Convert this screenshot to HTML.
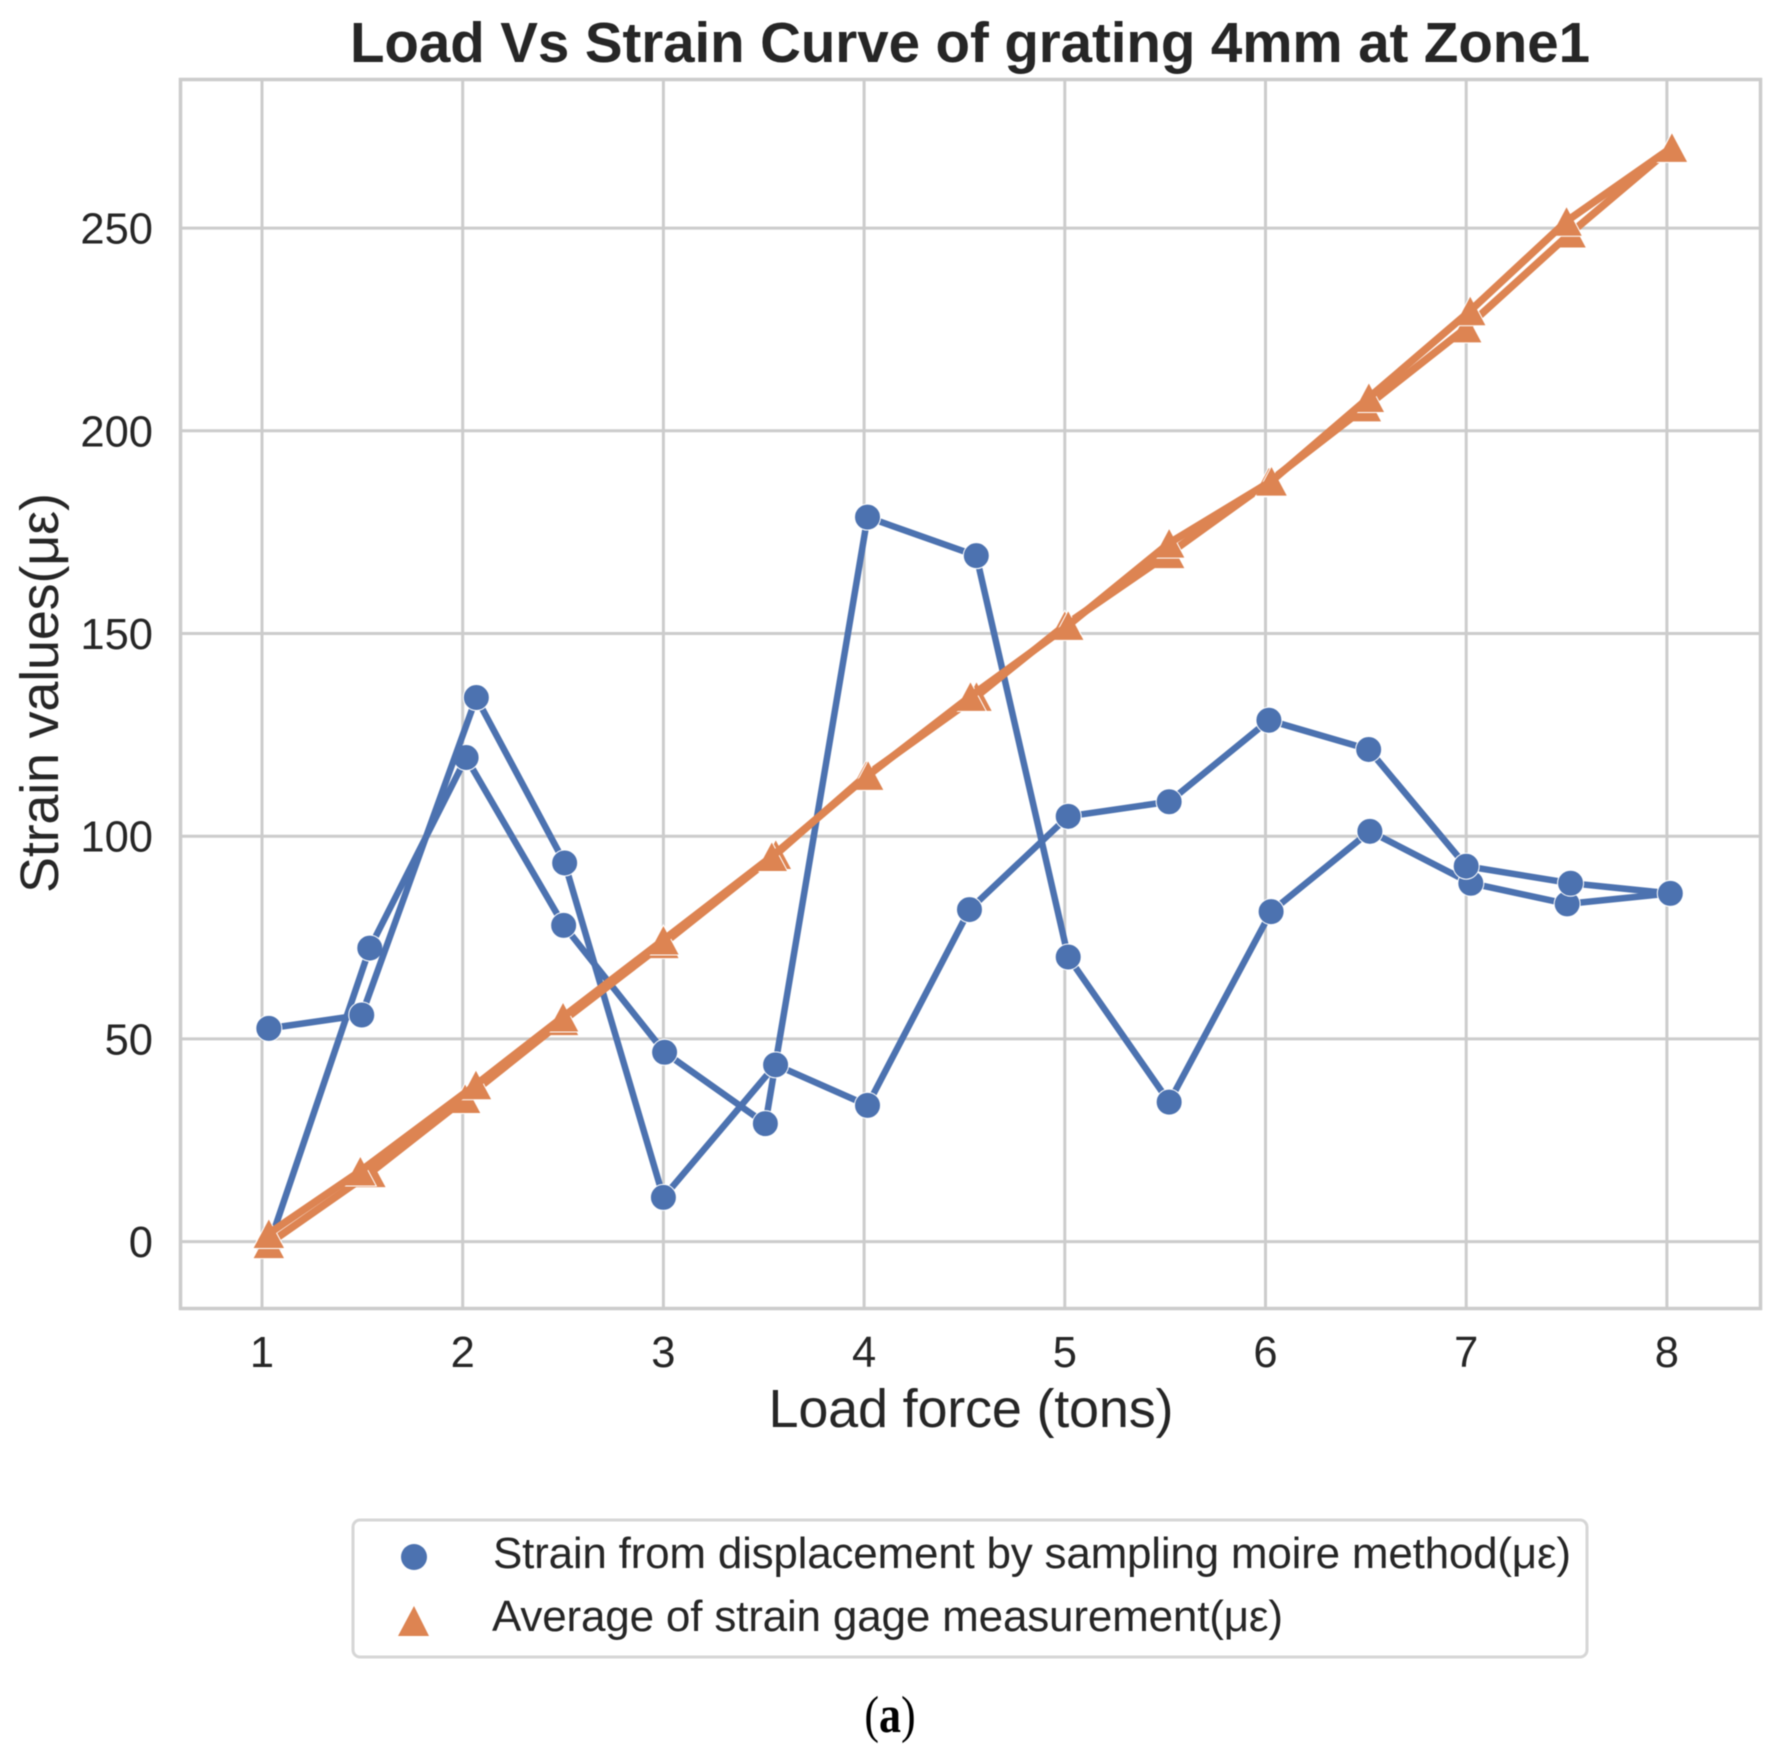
<!DOCTYPE html>
<html lang="en">
<head>
<meta charset="utf-8">
<title>Load Vs Strain Curve</title>
<style>
html,body{margin:0;padding:0;background:#fff;}
#chart{display:block;width:1778px;height:1761px;filter:blur(0.4px);}
text{font-family:"Liberation Sans",Arial,sans-serif;fill:#262626;}
</style>
</head>
<body>
<svg id="chart" xmlns="http://www.w3.org/2000/svg" width="1778" height="1761" viewBox="0 0 1778 1761">
  <rect x="0" y="0" width="1778" height="1761" fill="#ffffff"/>
  <text x="970" y="62" text-anchor="middle" font-size="56.5" font-weight="700" textLength="1240" lengthAdjust="spacing">Load Vs Strain Curve of grating 4mm at Zone1</text>
  <g id="grid"></g>
  <rect x="180.5" y="79.5" width="1580" height="1229" fill="none" stroke="#cccccc" stroke-width="3.5"/>
  <g id="xticks"></g>
  <g id="yticks"></g>
  <g id="series"></g>
  <text x="971" y="1427" text-anchor="middle" font-size="54" textLength="405" lengthAdjust="spacing">Load force (tons)</text>
  <text transform="translate(58,693) rotate(-90)" text-anchor="middle" font-size="54" textLength="400" lengthAdjust="spacing">Strain values(με)</text>
  <g>
    <rect x="353" y="1520" width="1234" height="137" rx="7" ry="7" fill="#ffffff" stroke="#d6d6d6" stroke-width="3"/>
    <circle cx="414" cy="1557" r="13" fill="#4c72b0"/>
    <text x="493" y="1568" font-size="44" textLength="1078" lengthAdjust="spacing">Strain from displacement by sampling moire method(με)</text>
    <polygon points="414,1606 429,1636 398,1636" fill="#dd8452"/>
    <text x="492" y="1631" font-size="44" textLength="791" lengthAdjust="spacing">Average of strain gage measurement(με)</text>
  </g>
  <text transform="translate(890,1732) scale(1,1.18)" x="0" y="0" text-anchor="middle" font-size="44" style="font-family:'Liberation Serif',serif;fill:#000">(<tspan font-weight="700">a</tspan>)</text>
</svg>
<script>
var xTicks = [1, 2, 3, 4, 5, 6, 7, 8];
var yTicks = [0, 50, 100, 150, 200, 250];

var moireUpX = [1.034, 1.537, 2.017, 2.503, 3.006, 3.508, 4.017, 4.559, 5.017, 5.52, 6.028, 6.52, 7.023, 7.503, 8.017];
var moireUpY = [-1, 72.4, 119.4, 78.0, 46.7, 29.1, 178.7, 169.2, 70.2, 34.4, 81.4, 101.2, 88.4, 83.3, 85.9];
var moireDownX = [1.034, 1.497, 2.068, 2.508, 3.0, 3.559, 4.017, 4.525, 5.017, 5.52, 6.017, 6.514, 7.0, 7.52, 8.017];
var moireDownY = [52.6, 55.9, 134.2, 93.4, 10.9, 43.6, 33.6, 81.9, 104.9, 108.5, 128.6, 121.4, 92.6, 88.4, 85.9];

var gageUpX = [1.034, 1.49, 2.066, 2.5, 3.0, 3.54, 4.02, 4.53, 5.017, 5.52, 6.03, 6.515, 7.02, 7.5, 8.025];
var gageUpY = [2, 17.4, 38.7, 55.4, 74.4, 95, 115, 134.5, 152, 172.3, 187.6, 208.2, 229.6, 251.7, 269.9];
var gageDownX = [1.034, 1.54, 2.012, 2.5, 3.0, 3.56, 4.01, 4.56, 5.0, 5.52, 6.017, 6.5, 7.0, 7.52, 8.025];
var gageDownY = [-0.5, 17, 35.3, 54.5, 73.5, 95.5, 115, 134.5, 152, 169.7, 187.4, 205.9, 225.4, 248.8, 269.9];

var NS = 'http://www.w3.org/2000/svg';
function sx(v) { return 262 + (v - 1) * 200.7; }
function sy(v) { return 1241.6 - v * 4.054; }
function mk(tag, parent) {
  var el = document.createElementNS(NS, tag);
  parent.appendChild(el);
  return el;
}
function setAll(el, obj) {
  for (var k in obj) { el.setAttribute(k, obj[k]); }
}
var gridG = document.getElementById('grid');
var xtG = document.getElementById('xticks');
var ytG = document.getElementById('yticks');
var serG = document.getElementById('series');

xTicks.forEach(function (t) {
  var l = mk('line', gridG);
  
  
  setAll(l, { x1: sx(t), x2: sx(t), y1: 79.5, y2: 1308.5, stroke: '#cccccc', 'stroke-width': 3 });
  var lab = mk('text', xtG);
  
  
  setAll(lab, { x: sx(t), y: 1367, 'text-anchor': 'middle', 'font-size': 43.5 });
  lab.textContent = String(t);
});
yTicks.forEach(function (t) {
  var l = mk('line', gridG);
  
  
  setAll(l, { x1: 180.5, x2: 1760.5, y1: sy(t), y2: sy(t), stroke: '#cccccc', 'stroke-width': 3 });
  var lab = mk('text', ytG);
  
  
  setAll(lab, { x: 153, y: sy(t) + 15.5, 'text-anchor': 'end', 'font-size': 43.5 });
  lab.textContent = String(t);
});

function drawLine(xs, ys, color, width, name) {
  var pts = xs.map(function (x, i) { return sx(x).toFixed(1) + ',' + sy(ys[i]).toFixed(1); }).join(' ');
  var p = mk('polyline', serG);
  
  
  setAll(p, { points: pts, fill: 'none', stroke: color, 'stroke-width': width, 'stroke-linejoin': 'round', 'stroke-linecap': 'round' });
}
function drawCircles(xs, ys, color, name) {
  xs.forEach(function (x, i) {
    var c = mk('circle', serG);
    
    
    setAll(c, { cx: sx(x), cy: sy(ys[i]), r: 13, fill: color, stroke: '#ffffff', 'stroke-width': 1 });
  });
}
function drawTriangles(xs, ys, color, name) {
  xs.forEach(function (x, i) {
    var cx = sx(x), cy = sy(ys[i]);
    var t = mk('polygon', serG);
    
    
    setAll(t, {
      points: cx + ',' + (cy - 15) + ' ' + (cx + 16) + ',' + (cy + 15) + ' ' + (cx - 16) + ',' + (cy + 15),
      fill: color, stroke: '#ffffff', 'stroke-width': 1
    });
  });
}
var blue = '#4c72b0', orange = '#dd8452';
drawLine(moireUpX, moireUpY, blue, 6.5, 'moire-strain-line-a');
drawCircles(moireUpX, moireUpY, blue, 'moire-strain-point-a');
drawLine(moireDownX, moireDownY, blue, 6.5, 'moire-strain-line-b');
drawCircles(moireDownX, moireDownY, blue, 'moire-strain-point-b');
drawTriangles(gageDownX, gageDownY, orange, 'gage-strain-point-b');
drawLine(gageDownX, gageDownY, orange, 7.5, 'gage-strain-line-b');
drawTriangles(gageUpX, gageUpY, orange, 'gage-strain-point-a');
drawLine(gageUpX, gageUpY, orange, 7.5, 'gage-strain-line-a');
</script>
</body>
</html>
